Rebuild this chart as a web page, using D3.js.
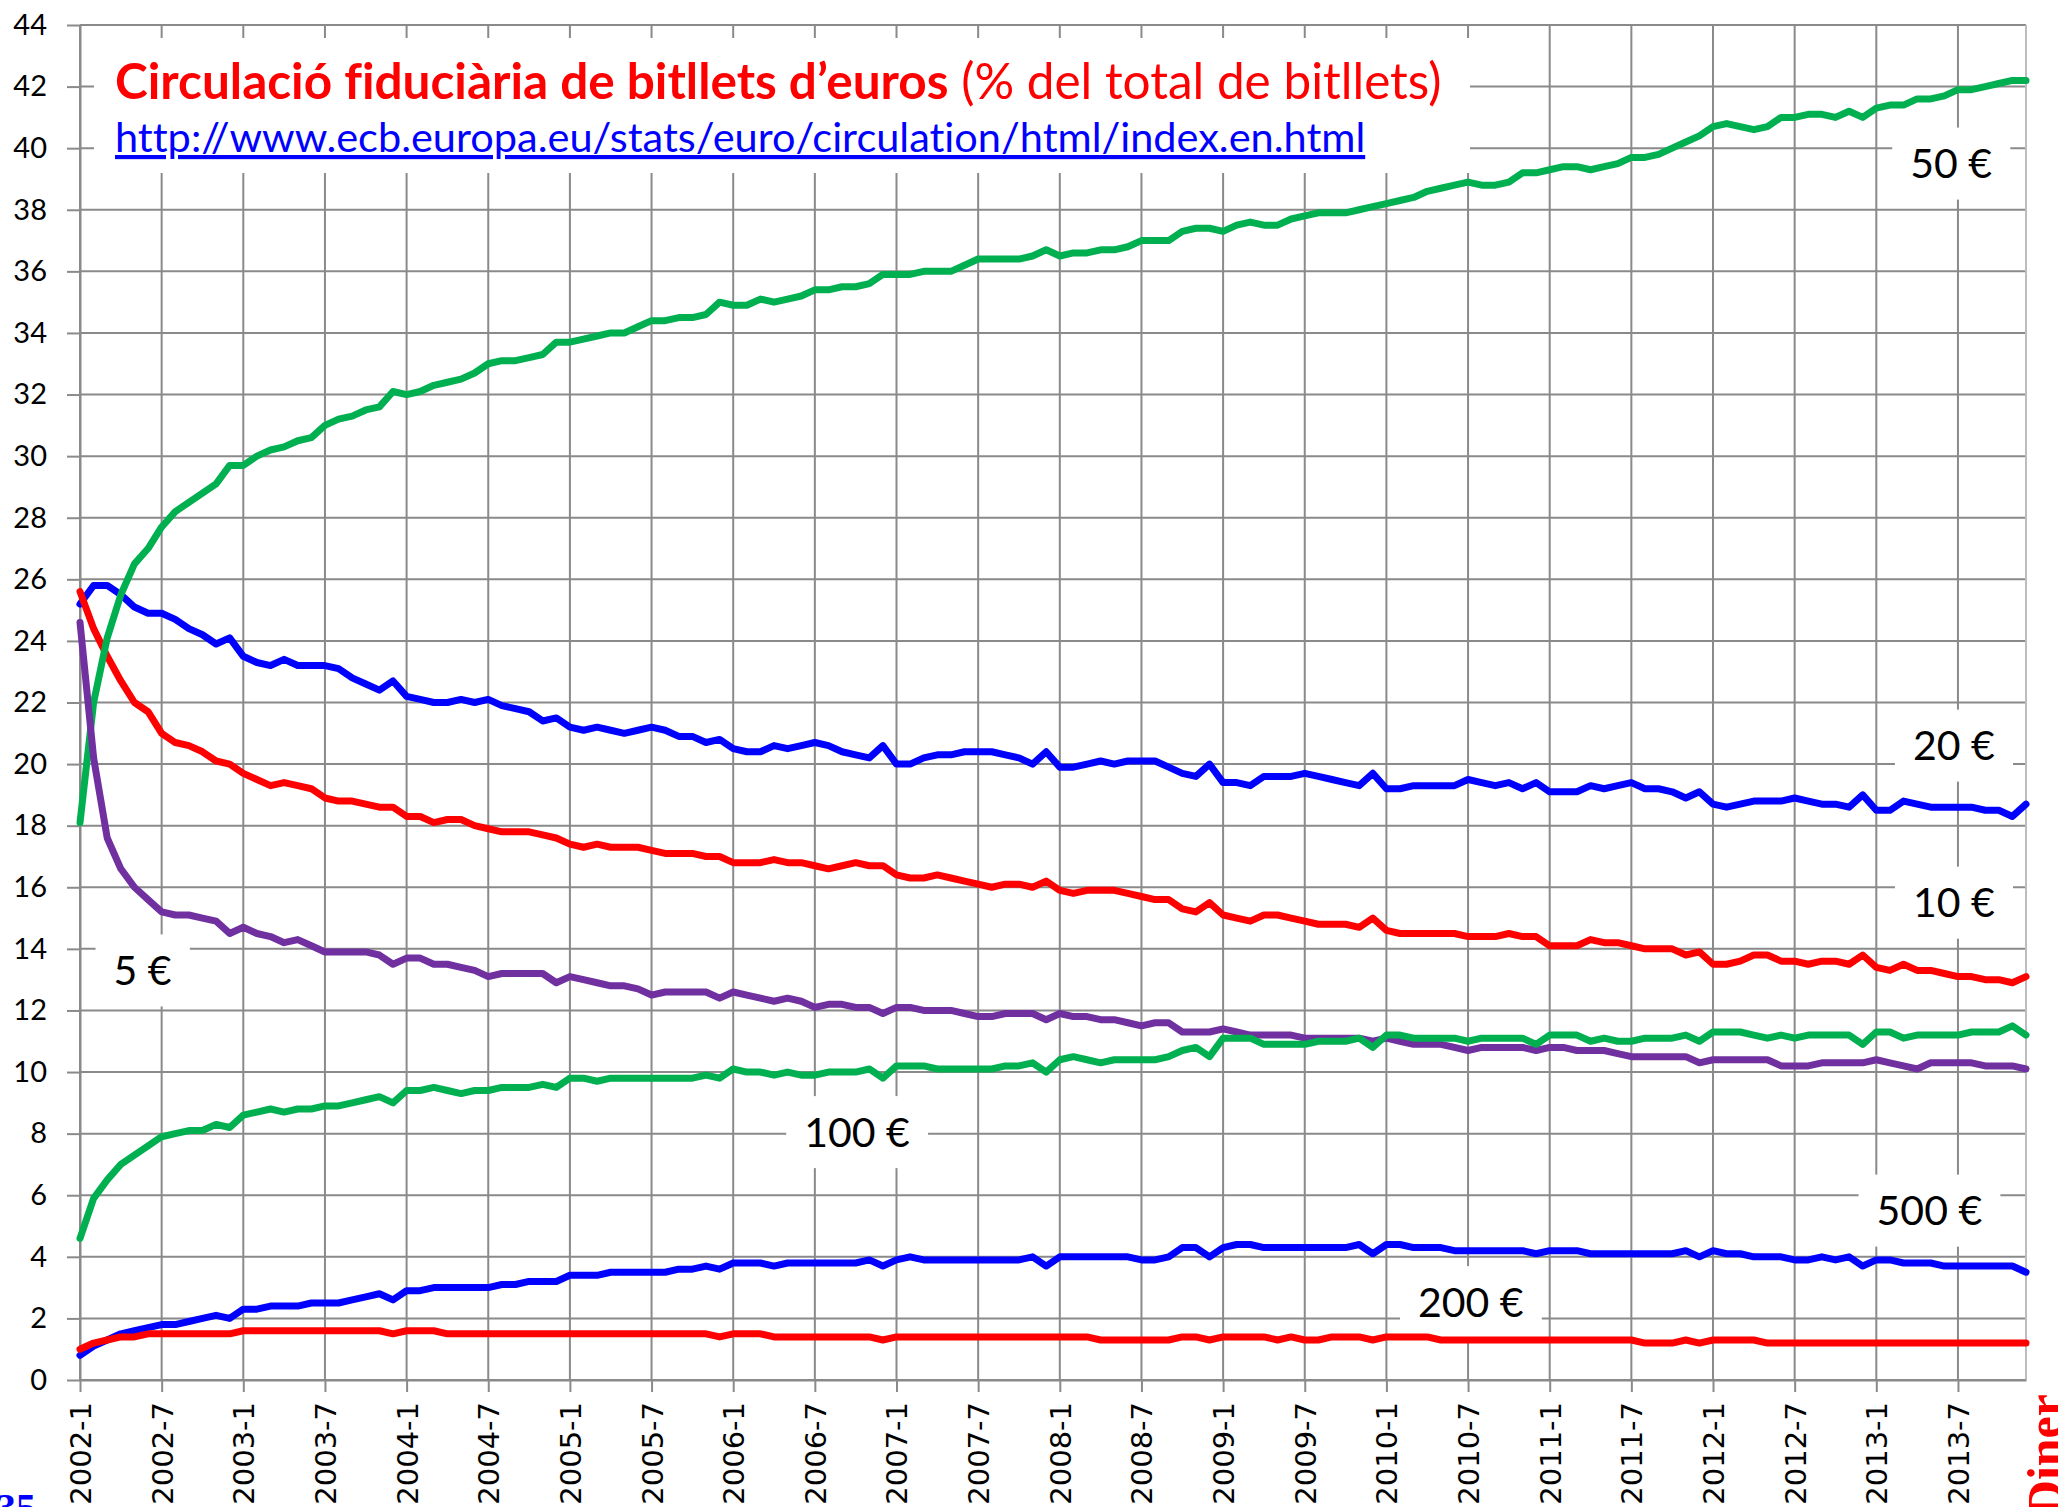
<!DOCTYPE html>
<html>
<head>
<meta charset="utf-8">
<script src="https://cdn.jsdelivr.net/npm/d3@7"></script>
<style>
  body { margin: 0; background: #fff; }
  svg { display: block; }
  text { font-variant-ligatures: none; }
</style>
</head>
<body>
<div id="chart"></div>
<script>
// categories: one per month, 2002-1 .. 2013-12
var months = [];
for (let yr = 2002; yr <= 2013; yr++) {
	for (let mo = 1; mo <= 12; mo++) months.push(yr + "-" + mo);
}

// % of total banknotes in circulation, per denomination
var b50 = [
	18.1, 22.0, 24.1, 25.5, 26.5, 27.0, 27.7, 28.2, 28.5, 28.8, 29.1, 29.7, 29.7, 30.0, 30.2, 30.3, 30.5, 30.6,
	31.0, 31.2, 31.3, 31.5, 31.6, 32.1, 32.0, 32.1, 32.3, 32.4, 32.5, 32.7, 33.0, 33.1, 33.1, 33.2, 33.3, 33.7,
	33.7, 33.8, 33.9, 34.0, 34.0, 34.2, 34.4, 34.4, 34.5, 34.5, 34.6, 35.0, 34.9, 34.9, 35.1, 35.0, 35.1, 35.2,
	35.4, 35.4, 35.5, 35.5, 35.6, 35.9, 35.9, 35.9, 36.0, 36.0, 36.0, 36.2, 36.4, 36.4, 36.4, 36.4, 36.5, 36.7,
	36.5, 36.6, 36.6, 36.7, 36.7, 36.8, 37.0, 37.0, 37.0, 37.3, 37.4, 37.4, 37.3, 37.5, 37.6, 37.5, 37.5, 37.7,
	37.8, 37.9, 37.9, 37.9, 38.0, 38.1, 38.2, 38.3, 38.4, 38.6, 38.7, 38.8, 38.9, 38.8, 38.8, 38.9, 39.2, 39.2,
	39.3, 39.4, 39.4, 39.3, 39.4, 39.5, 39.7, 39.7, 39.8, 40.0, 40.2, 40.4, 40.7, 40.8, 40.7, 40.6, 40.7, 41.0,
	41.0, 41.1, 41.1, 41.0, 41.2, 41.0, 41.3, 41.4, 41.4, 41.6, 41.6, 41.7, 41.9, 41.9, 42.0, 42.1, 42.2, 42.2
];
var b20 = [
	25.2, 25.8, 25.8, 25.5, 25.1, 24.9, 24.9, 24.7, 24.4, 24.2, 23.9, 24.1, 23.5, 23.3, 23.2, 23.4, 23.2, 23.2,
	23.2, 23.1, 22.8, 22.6, 22.4, 22.7, 22.2, 22.1, 22.0, 22.0, 22.1, 22.0, 22.1, 21.9, 21.8, 21.7, 21.4, 21.5,
	21.2, 21.1, 21.2, 21.1, 21.0, 21.1, 21.2, 21.1, 20.9, 20.9, 20.7, 20.8, 20.5, 20.4, 20.4, 20.6, 20.5, 20.6,
	20.7, 20.6, 20.4, 20.3, 20.2, 20.6, 20.0, 20.0, 20.2, 20.3, 20.3, 20.4, 20.4, 20.4, 20.3, 20.2, 20.0, 20.4,
	19.9, 19.9, 20.0, 20.1, 20.0, 20.1, 20.1, 20.1, 19.9, 19.7, 19.6, 20.0, 19.4, 19.4, 19.3, 19.6, 19.6, 19.6,
	19.7, 19.6, 19.5, 19.4, 19.3, 19.7, 19.2, 19.2, 19.3, 19.3, 19.3, 19.3, 19.5, 19.4, 19.3, 19.4, 19.2, 19.4,
	19.1, 19.1, 19.1, 19.3, 19.2, 19.3, 19.4, 19.2, 19.2, 19.1, 18.9, 19.1, 18.7, 18.6, 18.7, 18.8, 18.8, 18.8,
	18.9, 18.8, 18.7, 18.7, 18.6, 19.0, 18.5, 18.5, 18.8, 18.7, 18.6, 18.6, 18.6, 18.6, 18.5, 18.5, 18.3, 18.7
];
var b10 = [
	25.6, 24.4, 23.5, 22.7, 22.0, 21.7, 21.0, 20.7, 20.6, 20.4, 20.1, 20.0, 19.7, 19.5, 19.3, 19.4, 19.3, 19.2,
	18.9, 18.8, 18.8, 18.7, 18.6, 18.6, 18.3, 18.3, 18.1, 18.2, 18.2, 18.0, 17.9, 17.8, 17.8, 17.8, 17.7, 17.6,
	17.4, 17.3, 17.4, 17.3, 17.3, 17.3, 17.2, 17.1, 17.1, 17.1, 17.0, 17.0, 16.8, 16.8, 16.8, 16.9, 16.8, 16.8,
	16.7, 16.6, 16.7, 16.8, 16.7, 16.7, 16.4, 16.3, 16.3, 16.4, 16.3, 16.2, 16.1, 16.0, 16.1, 16.1, 16.0, 16.2,
	15.9, 15.8, 15.9, 15.9, 15.9, 15.8, 15.7, 15.6, 15.6, 15.3, 15.2, 15.5, 15.1, 15.0, 14.9, 15.1, 15.1, 15.0,
	14.9, 14.8, 14.8, 14.8, 14.7, 15.0, 14.6, 14.5, 14.5, 14.5, 14.5, 14.5, 14.4, 14.4, 14.4, 14.5, 14.4, 14.4,
	14.1, 14.1, 14.1, 14.3, 14.2, 14.2, 14.1, 14.0, 14.0, 14.0, 13.8, 13.9, 13.5, 13.5, 13.6, 13.8, 13.8, 13.6,
	13.6, 13.5, 13.6, 13.6, 13.5, 13.8, 13.4, 13.3, 13.5, 13.3, 13.3, 13.2, 13.1, 13.1, 13.0, 13.0, 12.9, 13.1
];
var b5 = [
	24.6, 20.2, 17.6, 16.6, 16.0, 15.6, 15.2, 15.1, 15.1, 15.0, 14.9, 14.5, 14.7, 14.5, 14.4, 14.2, 14.3, 14.1,
	13.9, 13.9, 13.9, 13.9, 13.8, 13.5, 13.7, 13.7, 13.5, 13.5, 13.4, 13.3, 13.1, 13.2, 13.2, 13.2, 13.2, 12.9,
	13.1, 13.0, 12.9, 12.8, 12.8, 12.7, 12.5, 12.6, 12.6, 12.6, 12.6, 12.4, 12.6, 12.5, 12.4, 12.3, 12.4, 12.3,
	12.1, 12.2, 12.2, 12.1, 12.1, 11.9, 12.1, 12.1, 12.0, 12.0, 12.0, 11.9, 11.8, 11.8, 11.9, 11.9, 11.9, 11.7,
	11.9, 11.8, 11.8, 11.7, 11.7, 11.6, 11.5, 11.6, 11.6, 11.3, 11.3, 11.3, 11.4, 11.3, 11.2, 11.2, 11.2, 11.2,
	11.1, 11.1, 11.1, 11.1, 11.1, 11.0, 11.1, 11.0, 10.9, 10.9, 10.9, 10.8, 10.7, 10.8, 10.8, 10.8, 10.8, 10.7,
	10.8, 10.8, 10.7, 10.7, 10.7, 10.6, 10.5, 10.5, 10.5, 10.5, 10.5, 10.3, 10.4, 10.4, 10.4, 10.4, 10.4, 10.2,
	10.2, 10.2, 10.3, 10.3, 10.3, 10.3, 10.4, 10.3, 10.2, 10.1, 10.3, 10.3, 10.3, 10.3, 10.2, 10.2, 10.2, 10.1
];
var b100 = [
	4.6, 5.9, 6.5, 7.0, 7.3, 7.6, 7.9, 8.0, 8.1, 8.1, 8.3, 8.2, 8.6, 8.7, 8.8, 8.7, 8.8, 8.8,
	8.9, 8.9, 9.0, 9.1, 9.2, 9.0, 9.4, 9.4, 9.5, 9.4, 9.3, 9.4, 9.4, 9.5, 9.5, 9.5, 9.6, 9.5,
	9.8, 9.8, 9.7, 9.8, 9.8, 9.8, 9.8, 9.8, 9.8, 9.8, 9.9, 9.8, 10.1, 10.0, 10.0, 9.9, 10.0, 9.9,
	9.9, 10.0, 10.0, 10.0, 10.1, 9.8, 10.2, 10.2, 10.2, 10.1, 10.1, 10.1, 10.1, 10.1, 10.2, 10.2, 10.3, 10.0,
	10.4, 10.5, 10.4, 10.3, 10.4, 10.4, 10.4, 10.4, 10.5, 10.7, 10.8, 10.5, 11.1, 11.1, 11.1, 10.9, 10.9, 10.9,
	10.9, 11.0, 11.0, 11.0, 11.1, 10.8, 11.2, 11.2, 11.1, 11.1, 11.1, 11.1, 11.0, 11.1, 11.1, 11.1, 11.1, 10.9,
	11.2, 11.2, 11.2, 11.0, 11.1, 11.0, 11.0, 11.1, 11.1, 11.1, 11.2, 11.0, 11.3, 11.3, 11.3, 11.2, 11.1, 11.2,
	11.1, 11.2, 11.2, 11.2, 11.2, 10.9, 11.3, 11.3, 11.1, 11.2, 11.2, 11.2, 11.2, 11.3, 11.3, 11.3, 11.5, 11.2
];
var b500 = [
	0.8, 1.1, 1.3, 1.5, 1.6, 1.7, 1.8, 1.8, 1.9, 2.0, 2.1, 2.0, 2.3, 2.3, 2.4, 2.4, 2.4, 2.5,
	2.5, 2.5, 2.6, 2.7, 2.8, 2.6, 2.9, 2.9, 3.0, 3.0, 3.0, 3.0, 3.0, 3.1, 3.1, 3.2, 3.2, 3.2,
	3.4, 3.4, 3.4, 3.5, 3.5, 3.5, 3.5, 3.5, 3.6, 3.6, 3.7, 3.6, 3.8, 3.8, 3.8, 3.7, 3.8, 3.8,
	3.8, 3.8, 3.8, 3.8, 3.9, 3.7, 3.9, 4.0, 3.9, 3.9, 3.9, 3.9, 3.9, 3.9, 3.9, 3.9, 4.0, 3.7,
	4.0, 4.0, 4.0, 4.0, 4.0, 4.0, 3.9, 3.9, 4.0, 4.3, 4.3, 4.0, 4.3, 4.4, 4.4, 4.3, 4.3, 4.3,
	4.3, 4.3, 4.3, 4.3, 4.4, 4.1, 4.4, 4.4, 4.3, 4.3, 4.3, 4.2, 4.2, 4.2, 4.2, 4.2, 4.2, 4.1,
	4.2, 4.2, 4.2, 4.1, 4.1, 4.1, 4.1, 4.1, 4.1, 4.1, 4.2, 4.0, 4.2, 4.1, 4.1, 4.0, 4.0, 4.0,
	3.9, 3.9, 4.0, 3.9, 4.0, 3.7, 3.9, 3.9, 3.8, 3.8, 3.8, 3.7, 3.7, 3.7, 3.7, 3.7, 3.7, 3.5
];
var b200 = [
	1.0, 1.2, 1.3, 1.4, 1.4, 1.5, 1.5, 1.5, 1.5, 1.5, 1.5, 1.5, 1.6, 1.6, 1.6, 1.6, 1.6, 1.6,
	1.6, 1.6, 1.6, 1.6, 1.6, 1.5, 1.6, 1.6, 1.6, 1.5, 1.5, 1.5, 1.5, 1.5, 1.5, 1.5, 1.5, 1.5,
	1.5, 1.5, 1.5, 1.5, 1.5, 1.5, 1.5, 1.5, 1.5, 1.5, 1.5, 1.4, 1.5, 1.5, 1.5, 1.4, 1.4, 1.4,
	1.4, 1.4, 1.4, 1.4, 1.4, 1.3, 1.4, 1.4, 1.4, 1.4, 1.4, 1.4, 1.4, 1.4, 1.4, 1.4, 1.4, 1.4,
	1.4, 1.4, 1.4, 1.3, 1.3, 1.3, 1.3, 1.3, 1.3, 1.4, 1.4, 1.3, 1.4, 1.4, 1.4, 1.4, 1.3, 1.4,
	1.3, 1.3, 1.4, 1.4, 1.4, 1.3, 1.4, 1.4, 1.4, 1.4, 1.3, 1.3, 1.3, 1.3, 1.3, 1.3, 1.3, 1.3,
	1.3, 1.3, 1.3, 1.3, 1.3, 1.3, 1.3, 1.2, 1.2, 1.2, 1.3, 1.2, 1.3, 1.3, 1.3, 1.3, 1.2, 1.2,
	1.2, 1.2, 1.2, 1.2, 1.2, 1.2, 1.2, 1.2, 1.2, 1.2, 1.2, 1.2, 1.2, 1.2, 1.2, 1.2, 1.2, 1.2
];

var yTicks = d3.range(0, 45, 2);
var xTicks = d3.range(0, months.length, 6);

// drawing order (later = on top)
var series = [
	{ name: "20 €", values: b20, color: "#0000ff" },
	{ name: "10 €", values: b10, color: "#ff0000" },
	{ name: "50 €", values: b50, color: "#00b050" },
	{ name: "5 €", values: b5, color: "#7030a0" },
	{ name: "500 €", values: b500, color: "#0000ff" },
	{ name: "200 €", values: b200, color: "#ff0000" },
	{ name: "100 €", values: b100, color: "#00b050" }
];

// where each denomination's name box sits (month index, value)
var tags = [
	{ text: "50 €", at: [137.5, 39.5] },
	{ text: "20 €", at: [137.7, 20.6] },
	{ text: "10 €", at: [137.7, 15.5] },
	{ text: "5 €", at: [4.6, 13.3] },
	{ text: "100 €", at: [57.1, 8.05] },
	{ text: "500 €", at: [135.9, 5.5] },
	{ text: "200 €", at: [102.2, 2.53] }
];

var margin = { top: 25, right: 32, bottom: 127, left: 80 },
	width = 2058 - margin.left - margin.right,
	height = 1507 - margin.top - margin.bottom;

var gridColor = "#8a8a8a";
var calibriLike = "Lato, 'Noto Sans', sans-serif";

var root = d3.select("#chart")
	.append("svg")
	.attr("width", 2058)
	.attr("height", 1507);

var svg = root.append("g")
	.attr("transform", "translate(" + margin.left + "," + margin.top + ")");

var x = d3.scaleLinear()
	.domain([0, months.length - 1])
	.range([0, width]);

var y = d3.scaleLinear()
	.domain([0, 44])
	.range([height, 0]);

// grid
svg.append("g")
	.selectAll("line")
	.data(yTicks)
	.join("line")
	.attr("x1", 0).attr("x2", width)
	.attr("y1", d => y(d)).attr("y2", d => y(d))
	.attr("stroke", gridColor)
	.attr("stroke-width", 2);

svg.append("g")
	.selectAll("line")
	.data(xTicks)
	.join("line")
	.attr("x1", d => x(d)).attr("x2", d => x(d))
	.attr("y1", 0).attr("y2", height)
	.attr("stroke", gridColor)
	.attr("stroke-width", 2);

// right border of the plot area
svg.append("line")
	.attr("x1", width).attr("x2", width)
	.attr("y1", 0).attr("y2", height)
	.attr("stroke", "#bdbdbd")
	.attr("stroke-width", 2);

// Y axis
var yAxis = svg.append("g")
	.call(d3.axisLeft(y).tickValues(yTicks).tickSize(13).tickPadding(20).tickSizeOuter(0));
yAxis.select(".domain").attr("stroke", gridColor).attr("stroke-width", 2);
yAxis.selectAll(".tick line").attr("stroke", gridColor).attr("stroke-width", 2);
yAxis.selectAll("text")
	.attr("fill", "#000")
	.style("font-family", calibriLike)
	.style("font-size", "29px");

// X axis
var xAxis = svg.append("g")
	.attr("transform", "translate(0," + height + ")")
	.call(d3.axisBottom(x).tickValues(xTicks).tickFormat(i => months[i]).tickSize(12).tickSizeOuter(0));
xAxis.select(".domain").attr("stroke", gridColor).attr("stroke-width", 2);
xAxis.selectAll(".tick line").attr("stroke", gridColor).attr("stroke-width", 2);
xAxis.selectAll("text")
	.attr("fill", "#000")
	.attr("transform", "rotate(-90)")
	.attr("text-anchor", "end")
	.attr("x", -22)
	.attr("y", 0)
	.attr("dy", "0.36em")
	.style("font-family", "'DejaVu Sans', sans-serif")
	.style("font-size", "29px");

// name boxes (white, under the lines)
var tagG = svg.append("g")
	.selectAll("g")
	.data(tags)
	.join("g")
	.attr("transform", d => "translate(" + x(d.at[0]) + "," + y(d.at[1]) + ")");

tagG.append("rect").attr("fill", "#fff");
tagG.append("text")
	.attr("text-anchor", "middle")
	.attr("dy", "0.36em")
	.style("font-family", calibriLike)
	.style("font-size", "41px")
	.attr("fill", "#000")
	.text(d => d.text);
tagG.each(function () {
	var g = d3.select(this);
	var bb = g.select("text").node().getBBox();
	g.select("rect")
		.attr("x", bb.x - 18).attr("y", -36)
		.attr("width", bb.width + 36).attr("height", 72);
});

// lines
var line = d3.line()
	.x((d, i) => x(i))
	.y(d => y(d));

svg.append("g")
	.selectAll("path")
	.data(series)
	.join("path")
	.attr("d", d => line(d.values))
	.attr("fill", "none")
	.attr("stroke", d => d.color)
	.attr("stroke-width", 7)
	.attr("stroke-linejoin", "round")
	.attr("stroke-linecap", "round");

// title box
var head = root.append("g");
head.append("rect")
	.attr("x", 94).attr("y", 38)
	.attr("width", 1376).attr("height", 135)
	.attr("fill", "#fff");

var title = head.append("text")
	.attr("x", 115).attr("y", 99)
	.attr("fill", "#ff0000")
	.style("font-family", calibriLike)
	.style("font-size", "49.5px");
title.append("tspan").style("font-weight", "bold").text("Circulació fiduciària de bitllets d’euros");
title.append("tspan").text(" (% del total de bitllets)");

head.append("text")
	.attr("x", 115).attr("y", 152)
	.attr("fill", "#0000ff")
	.style("font-family", calibriLike)
	.style("font-size", "41.5px")
	.style("text-decoration", "underline")
	.text("http://www.ecb.europa.eu/stats/euro/circulation/html/index.en.html");

// page furniture, cut off by the edges
root.append("text")
	.attr("x", -4).attr("y", 1521)
	.attr("fill", "#0000ff")
	.style("font-family", "'Liberation Serif', serif")
	.style("font-weight", "bold")
	.style("font-size", "40px")
	.text("35");

root.append("text")
	.attr("transform", "translate(2062,1394) rotate(-90)")
	.attr("text-anchor", "end")
	.attr("fill", "#ff0000")
	.style("font-family", "'Liberation Serif', serif")
	.style("font-weight", "bold")
	.style("font-size", "50px")
	.text("Diner");
</script>
</body>
</html>
